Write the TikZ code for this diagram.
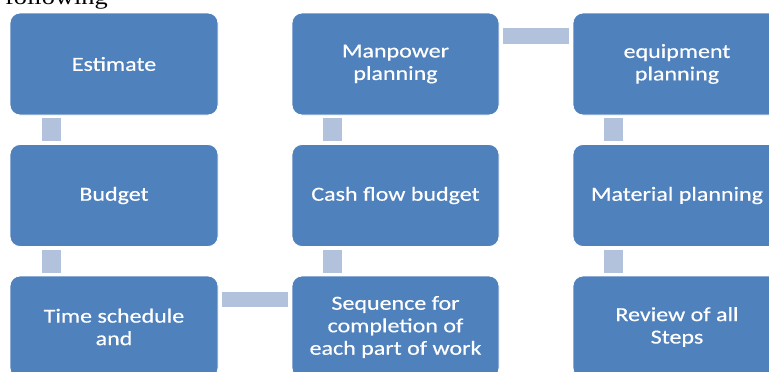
\documentclass[tikz,border=0pt]{standalone}
\usepackage{fontspec}
\usepackage{xcolor}
\usepackage{tikz}
\usetikzlibrary{calc}
\newfontfamily\boxfont[FakeStretch=1.2,FakeBold=0.4]{Carlito}
\newfontfamily\pagefont[FakeStretch=1.2]{Liberation Serif}
\definecolor{boxblue}{HTML}{4F81BD}
\definecolor{linkblue}{HTML}{B3C2DC}
\definecolor{rim}{HTML}{FFFFFF}
\tikzset{
  stepbox/.style={rectangle, rounded corners=10pt, fill=boxblue, draw=rim, line width=0.8pt,
    minimum width=208pt, minimum height=102pt, inner sep=0pt, align=center,
    text=white, font=\boxfont\fontsize{20}{22.5}\selectfont},
  vlink/.style={draw=linkblue, line width=19pt},
  hlink/.style={draw=linkblue, line width=15.5pt}
}

\begin{document}
\begin{tikzpicture}[x=1pt,y=-1pt]
  \useasboundingbox (0,0) rectangle (769,372);
  \clip (0,0) rectangle (769,372);

  % text of the page above the chart
  \node[anchor=base east, inner sep=0pt, font=\pagefont\fontsize{22}{22}\selectfont] (prev) at (108,4.7) {following};

  % first column
  \node[stepbox] (est) at (114,64) {Estimate};
  \node[stepbox] (bud) at (114,195.5) {Budget};
  \node[stepbox] (time) at (114,327) {Time schedule\\and};

  % second column
  \node[stepbox, minimum width=207pt] (man) at (395.5,64) {Manpower\\planning};
  \node[stepbox, minimum width=207pt] (cash) at (395.5,195.5) {Cash flow budget};
  \node[stepbox, minimum width=207pt] (seq) at (395.5,327) {Sequence for\\completion of\\each part of work};

  % third column
  \node[stepbox] (equ) at (677,64) {equipment\\planning};
  \node[stepbox] (mat) at (677,195.5) {Material planning};
  \node[stepbox] (rev) at (677,327) {Review of all\\Steps};

  % links
  \draw[vlink] ([xshift=41.5pt,yshift=-3pt]est.south west) -- ([xshift=41.5pt,yshift=3pt]bud.north west);
  \draw[vlink] ([xshift=41.5pt,yshift=-3pt]bud.south west) -- ([xshift=41.5pt,yshift=3pt]time.north west);
  \draw[hlink] ([xshift=4pt,yshift=-24pt]time.north east) -- ([xshift=-4pt,yshift=-24pt]seq.north west);
  \draw[vlink] ([xshift=40.5pt,yshift=3pt]seq.north west) -- ([xshift=40.5pt,yshift=-3pt]cash.south west);
  \draw[vlink] ([xshift=40.5pt,yshift=3pt]cash.north west) -- ([xshift=40.5pt,yshift=-3pt]man.south west);
  \draw[hlink] ([xshift=4pt,yshift=-23.5pt]man.north east) -- ([xshift=-4pt,yshift=-23.5pt]equ.north west);
  \draw[vlink] ([xshift=40.5pt,yshift=-3pt]equ.south west) -- ([xshift=40.5pt,yshift=3pt]mat.north west);
  \draw[vlink] ([xshift=40.5pt,yshift=-3pt]mat.south west) -- ([xshift=40.5pt,yshift=3pt]rev.north west);
\end{tikzpicture}
\end{document}
